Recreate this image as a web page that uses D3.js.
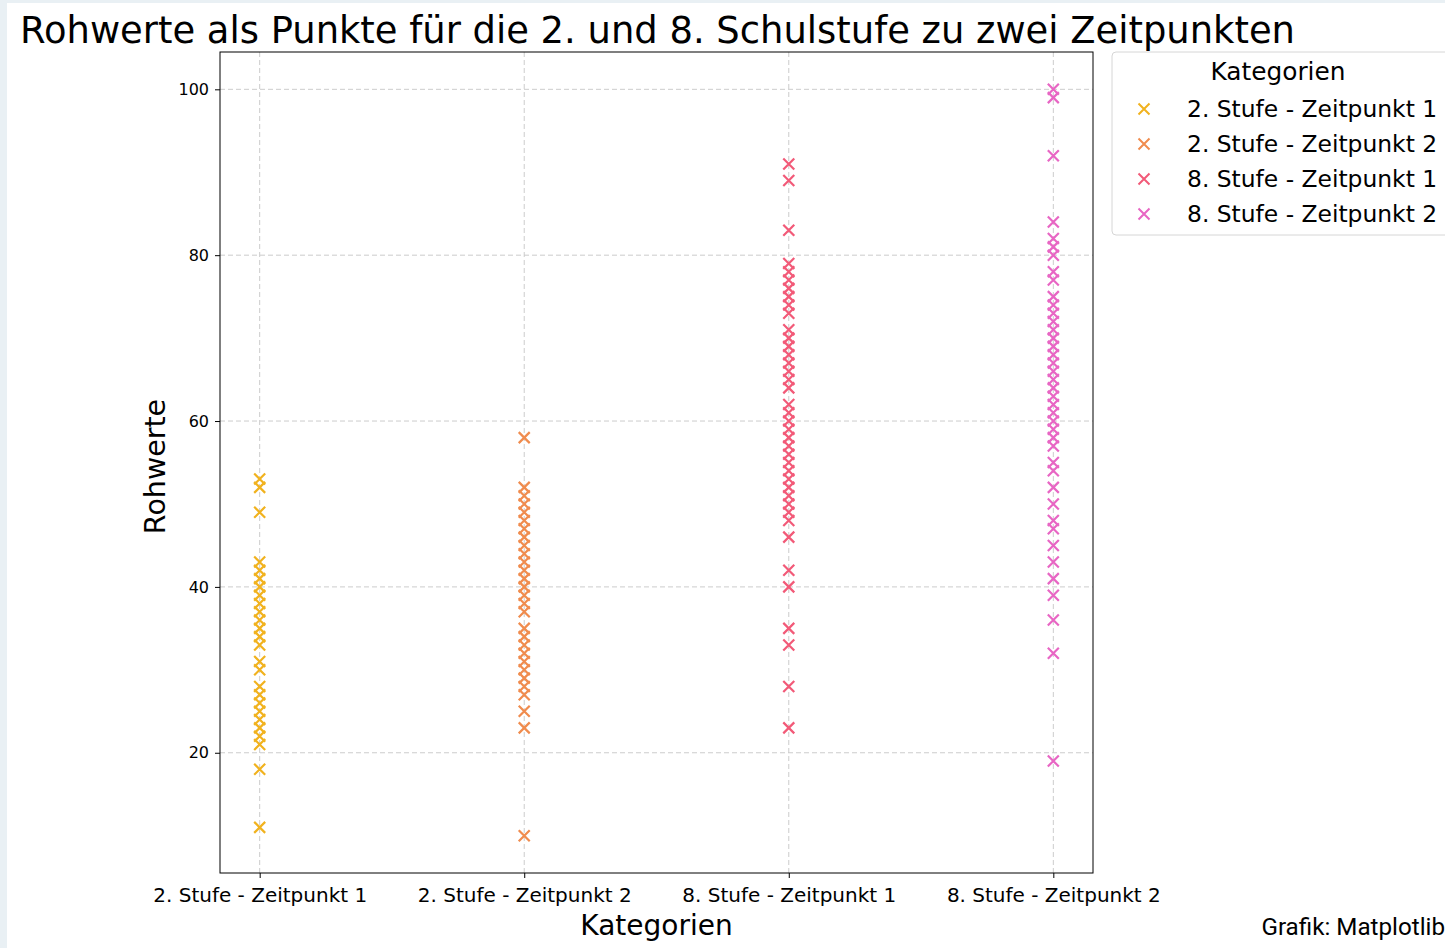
<!DOCTYPE html>
<html><head><meta charset="utf-8">
<script src="https://cdn.jsdelivr.net/npm/d3@7"></script>
<style>
html,body{margin:0;padding:0;background:#e9f0f4;}
svg{display:block;}
</style></head>
<body>
<svg id="chart" width="1445" height="948"></svg>
<script>
const categories = ["2. Stufe - Zeitpunkt 1","2. Stufe - Zeitpunkt 2","8. Stufe - Zeitpunkt 1","8. Stufe - Zeitpunkt 2"];
const stufe2Zeit1 = [53,52,49,43,42,41,40,39,38,37,36,35,34,33,31,30,28,27,26,25,24,23,22,21,18,11];
const stufe2Zeit2 = [58,52,51,50,49,48,47,46,45,44,43,42,41,40,39,38,37,35,34,33,32,31,30,29,28,27,25,23,10];
const stufe8Zeit1 = [91,89,83,79,78,77,76,75,74,73,71,70,69,68,67,66,65,64,62,61,60,59,58,57,56,55,54,53,52,51,50,49,48,46,42,40,35,33,28,23];
const stufe8Zeit2 = [100,99,92,84,82,81,80,78,77,75,74,73,72,71,70,69,68,67,66,65,64,63,62,61,60,59,58,57,55,54,52,50,48,47,45,43,41,39,36,32,19];
const seriesValues = [stufe2Zeit1, stufe2Zeit2, stufe8Zeit1, stufe8Zeit2];
const colors = ["#f1b21e","#f08c4e","#f25a78","#e866c4"];
const yTicks = [20,40,60,80,100];

const svg = d3.select("#chart");
svg.append("rect").attr("x",7).attr("y",3).attr("width",1438).attr("height",945).attr("fill","#fff");

const L=220,R=1093,T=52,B=873;
const x = d3.scalePoint().domain(categories).range([L,R]).padding(0.15);
const y = d3.scaleLinear().domain([5.5,104.5]).range([B,T]);

// grid
const g = svg.append("g");
g.selectAll(".gy").data(yTicks).join("line")
 .attr("x1",L).attr("x2",R).attr("y1",d=>y(d)).attr("y2",d=>y(d))
 .attr("stroke","#cccccc").attr("stroke-width",1).attr("stroke-dasharray","5,3");
g.selectAll(".gx").data(categories).join("line")
 .attr("x1",d=>x(d)).attr("x2",d=>x(d)).attr("y1",T).attr("y2",B)
 .attr("stroke","#cccccc").attr("stroke-width",1).attr("stroke-dasharray","5,3");

// axes
const yAxis = d3.axisLeft(y).tickValues(yTicks).tickSize(5).tickPadding(6);
const ya = svg.append("g").attr("transform",`translate(${L},0)`).call(yAxis);
ya.select(".domain").remove();
ya.selectAll("text").attr("font-family","DejaVu Sans").attr("font-size",16).attr("fill","#000");
ya.selectAll("line").attr("stroke","#000");

const xAxis = d3.axisBottom(x).tickSize(5).tickPadding(10);
const xa = svg.append("g").attr("transform",`translate(0,${B})`).call(xAxis);
xa.select(".domain").remove();
xa.selectAll("text").attr("font-family","DejaVu Sans").attr("font-size",20).attr("fill","#000");
xa.selectAll("line").attr("stroke","#000");

// points
const s = 5.5;
categories.forEach((c,i)=>{
  const pts = svg.append("g");
  pts.selectAll("path").data(seriesValues[i]).join("path")
   .attr("transform",d=>`translate(${x(c)},${y(d)})`)
   .attr("d",`M${-s},${-s}L${s},${s}M${-s},${s}L${s},${-s}`)
   .attr("stroke",colors[i]).attr("stroke-width",2.2).attr("fill","none");
});

// frame
svg.append("rect").attr("x",L).attr("y",T).attr("width",R-L).attr("height",B-T)
 .attr("fill","none").attr("stroke","#000").attr("stroke-width",1);

// title
svg.append("text").attr("x",20).attr("y",43).attr("font-family","DejaVu Sans").attr("font-size",36.9)
 .attr("fill","#000").text("Rohwerte als Punkte für die 2. und 8. Schulstufe zu zwei Zeitpunkten");

// axis labels
svg.append("text").attr("transform",`translate(165,${(T+B)/2+4}) rotate(-90)`).attr("text-anchor","middle")
 .attr("font-family","DejaVu Sans").attr("font-size",28.5).attr("fill","#000").text("Rohwerte");
svg.append("text").attr("x",(L+R)/2).attr("y",935).attr("text-anchor","middle")
 .attr("font-family","DejaVu Sans").attr("font-size",28).attr("fill","#000").text("Kategorien");

// legend
const lg = svg.append("g");
lg.append("rect").attr("x",1112).attr("y",52).attr("width",345).attr("height",183).attr("rx",4)
 .attr("fill","#fff").attr("stroke","#d6d6d6").attr("stroke-width",1);
lg.append("text").attr("x",1278).attr("y",80).attr("text-anchor","middle")
 .attr("font-family","DejaVu Sans").attr("font-size",24.8).attr("fill","#000").text("Kategorien");
categories.forEach((c,i)=>{
  const yy = 109 + i*35;
  lg.append("path").attr("transform",`translate(1144,${yy})`)
   .attr("d",`M${-s},${-s}L${s},${s}M${-s},${s}L${s},${-s}`)
   .attr("stroke",colors[i]).attr("stroke-width",2).attr("fill","none");
  lg.append("text").attr("x",1187).attr("y",yy+8).attr("font-family","DejaVu Sans").attr("font-size",23.4)
   .attr("fill","#000").text(c);
});

// credit
svg.append("text").attr("x",1445).attr("y",935).attr("text-anchor","end")
 .attr("font-family","Roboto").attr("font-size",24.2).attr("fill","#000").text("Grafik: Matplotlib");
</script>
</body></html>
